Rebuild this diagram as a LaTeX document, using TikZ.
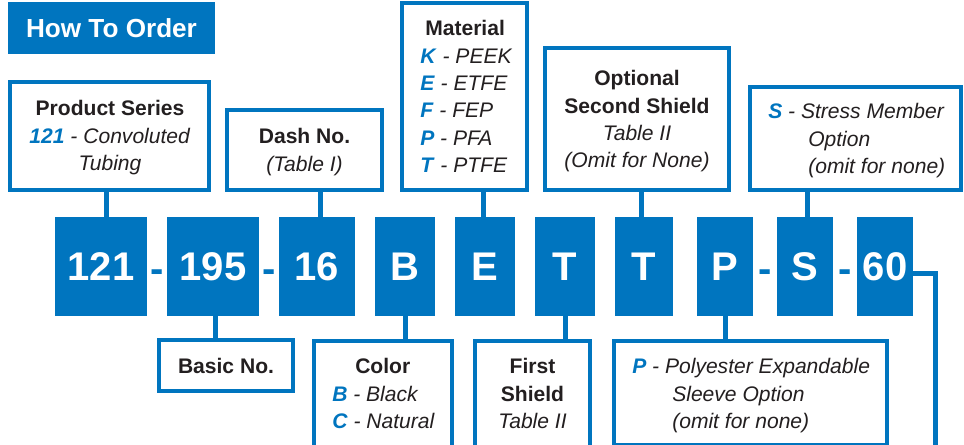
\documentclass[tikz,border=0pt]{standalone}
\usepackage{fontspec}
\setmainfont{Liberation Sans}
\definecolor{bl}{RGB}{0,117,191}
\definecolor{dk}{RGB}{35,31,32}
\newcommand\bk[1]{\textcolor{bl}{\textbf{\textit{#1}}}}
\begin{document}
\begin{tikzpicture}[x=0.75pt,y=-0.75pt,
  box/.style={draw=bl, line width=3pt, fill=white, inner sep=0pt},
  blk/.style={fill=bl, text=white, font=\fontsize{30}{36}\selectfont\bfseries, minimum height=74.25pt, inner sep=0pt, text height=21.5pt, text depth=0pt},
  lbl/.style={text=dk, inner sep=0pt, font=\fontsize{15.8}{20.6}\selectfont},
  conn/.style={draw=bl, line width=3.75pt},
  hy/.style={text=bl, font=\fontsize{30}{36}\selectfont\bfseries, inner sep=0pt, anchor=base}]
\useasboundingbox (0,0) rectangle (964,444);

% title
\node[fill=bl, text=white, inner sep=0pt, minimum width=155.25pt, minimum height=39pt,
      font=\fontsize{19.6}{24}\selectfont\bfseries] (title) at (111.5,28) {How To Order};

% top boxes
\node[box, minimum width=149.25pt, minimum height=81pt] (ps) at (109.5,136) {};
\node[lbl, align=center, anchor=north] (pst) at (110,100)
  {\textbf{Product Series}\\\bk{121} \textit{- Convoluted}\\\textit{Tubing}};

\node[box, minimum width=116.25pt, minimum height=60pt] (dash) at (304.5,150) {};
\node[lbl, align=center, anchor=north] (dasht) at (304.5,128)
  {\textbf{Dash No.}\\\textit{(Table I)}};

\node[box, minimum width=93.75pt, minimum height=140.25pt] (mat) at (464.5,96.5) {};
\node[lbl, align=left, anchor=north west] (matt) at (420,20)
  {\hspace*{3.75pt}\textbf{Material}\\\bk{K} \textit{- PEEK}\\\bk{E} \textit{- ETFE}\\\bk{F} \textit{- FEP}\\\bk{P} \textit{- PFA}\\\bk{T} \textit{- PTFE}};

\node[box, minimum width=138pt, minimum height=106.5pt] (opt) at (637,119) {};
\node[lbl, align=center, anchor=north] (optt) at (637,70)
  {\textbf{Optional}\\\textbf{Second Shield}\\\textit{Table II}\\\textit{(Omit for None)}};

\node[box, minimum width=158.25pt, minimum height=77.25pt] (str) at (855.5,138.5) {};
\node[lbl, align=left, anchor=north west] (strt) at (768,103)
  {\bk{S} \textit{- Stress Member}\\\hspace*{30pt}\textit{Option}\\\hspace*{30pt}\textit{(omit for none)}};

% blocks
\node[blk, minimum width=69pt] (b121) at (101,266.5) {121};
\node[blk, minimum width=69pt] (b195) at (213,266.5) {195};
\node[blk, minimum width=57pt] (b16) at (317,266.5) {16};
\node[blk, minimum width=45pt] (bB) at (405,266.5) {B};
\node[blk, minimum width=45pt] (bE) at (485,266.5) {E};
\node[blk, minimum width=45pt] (bT) at (565,266.5) {T};
\node[blk, minimum width=43.5pt] (bT2) at (644,266.5) {T};
\node[blk, minimum width=42pt] (bP) at (725,266.5) {P};
\node[blk, minimum width=42pt] (bS) at (805,266.5) {S};
\node[blk, minimum width=42pt] (b60) at (885,266.5) {60};

% hyphens
\node[hy] (h1) at (157.5,282) {-};
\node[hy] (h2) at (269,282) {-};
\node[hy] (h3) at (765.5,282) {-};
\node[hy] (h4) at (845.5,282) {-};

% bottom boxes
\node[box, minimum width=100.5pt, minimum height=38.25pt] (basic) at (226,365.5) {};
\node[lbl, anchor=north] (basict) at (226,358) {\textbf{Basic No.}};

\node[box, minimum width=103.5pt, minimum height=96.75pt] (color) at (383,405.5) {};
\node[lbl, align=left, anchor=north west] (colort) at (332,358)
  {\hspace*{17.25pt}\textbf{Color}\\\bk{B} \textit{- Black}\\\bk{C} \textit{- Natural}};

\node[box, minimum width=86.25pt, minimum height=96.75pt] (first) at (532.5,405.5) {};
\node[lbl, align=center, anchor=north] (firstt) at (532.5,358)
  {\textbf{First}\\\textbf{Shield}\\\textit{Table II}};

\node[box, minimum width=204.75pt, minimum height=77.625pt] (pbox) at (750.5,392.75) {};
\node[lbl, align=left, anchor=north west] (pboxt) at (632,358)
  {\bk{P} \textit{- Polyester Expandable}\\\hspace*{30pt}\textit{Sleeve Option}\\\hspace*{30pt}\textit{(omit for none)}};

% connectors
\draw[conn] ([xshift=3.75pt]b121.north) -- ([xshift=3.75pt]b121.north |- ps.south);
\draw[conn] ([xshift=2.25pt]b16.north) -- ([xshift=2.25pt]b16.north |- dash.south);
\draw[conn] ([xshift=-1.1pt]bE.north) -- ([xshift=-1.1pt]bE.north |- mat.south);
\draw[conn] ([xshift=-2.25pt]bT2.north) -- ([xshift=-2.25pt]bT2.north |- opt.south);
\draw[conn] ([xshift=1.5pt]bS.north) -- ([xshift=1.5pt]bS.north |- str.south);
\draw[conn] ([xshift=1.5pt]b195.south) -- ([xshift=1.5pt]b195.south |- basic.north);
\draw[conn] (bB.south) -- (bB.south |- color.north);
\draw[conn] (bT.south) -- (bT.south |- first.north);
\draw[conn] (bP.south) -- (bP.south |- pbox.north);
\coordinate (cend) at (935,452);
\draw[conn] ([yshift=-5.25pt]b60.east) -| (cend);
\end{tikzpicture}
\end{document}
